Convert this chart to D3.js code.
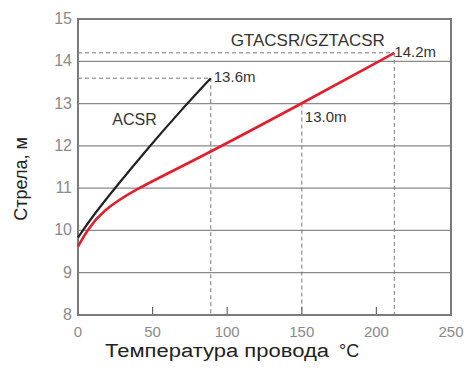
<!DOCTYPE html>
<html>
<head>
<meta charset="utf-8">
<script src="https://d3js.org/d3.v7.min.js"></script>
<style>
body { margin: 0; background: #fff; }
text { font-family: "Liberation Sans", Arial, sans-serif; }
</style>
</head>
<body>
<div id="viz"></div>
<script>
// data
var xTicks = [0, 50, 100, 150, 200, 250];
var yTicks = [8, 9, 10, 11, 12, 13, 14, 15];
var acsr = [[0, 9.83], [10, 10.35], [27, 11.1], [47, 11.95], [68, 12.8], [89, 13.6]];
var gtacsr = [[0, 9.62], [6, 10.0], [16, 10.45], [37, 10.95], [75, 11.6], [150, 13.0], [212, 14.2]];
var marks = [
  {t: 89, v: 13.6, label: "13.6m"},
  {t: 150, v: 13.0, label: "13.0m"},
  {t: 212, v: 14.2, label: "14.2m"}
];

var margin = {top: 19, right: 16, bottom: 55, left: 78};
var width = 467 - margin.left - margin.right;
var height = 370 - margin.top - margin.bottom;

var svg = d3.select("#viz").append("svg")
    .attr("width", 467)
    .attr("height", 370)
  .append("g")
    .attr("transform", "translate(" + margin.left + "," + margin.top + ")");

var x = d3.scaleLinear().domain([0, 250]).range([0, width]);
var y = d3.scaleLinear().domain([8, 15]).range([height, 0]);

// horizontal grid
svg.selectAll(".grid").data(yTicks).enter().append("line")
    .attr("x1", 0).attr("x2", width)
    .attr("y1", function(d) { return y(d); })
    .attr("y2", function(d) { return y(d); })
    .style("stroke", "#8a8a8a").style("stroke-width", 1.2);

// small ticks on the bottom, inside
svg.selectAll(".tk").data(xTicks.slice(1, -1)).enter().append("line")
    .attr("x1", function(d) { return x(d); }).attr("x2", function(d) { return x(d); })
    .attr("y1", height).attr("y2", height - 8)
    .style("stroke", "#666").style("stroke-width", 1.2);

// dashed reference lines
var dash = svg.append("g").style("stroke", "#777").style("stroke-width", 1)
    .style("stroke-dasharray", "4,3").style("fill", "none");
dash.append("line").attr("x1", 0).attr("x2", x(89)).attr("y1", y(13.6)).attr("y2", y(13.6));
dash.append("line").attr("x1", 0).attr("x2", x(212)).attr("y1", y(14.2)).attr("y2", y(14.2));
marks.forEach(function(m) {
  dash.append("line").attr("x1", x(m.t)).attr("x2", x(m.t)).attr("y1", y(m.v)).attr("y2", height);
});

// frame
svg.append("rect").attr("width", width).attr("height", height)
    .style("fill", "none").style("stroke", "#7a7a7a").style("stroke-width", 2);

var line = d3.line()
    .x(function(d) { return x(d[0]); })
    .y(function(d) { return y(d[1]); })
    .curve(d3.curveBasis);

svg.append("path").datum(gtacsr).attr("d", line)
    .style("fill", "none").style("stroke", "#e0202e").style("stroke-width", 2.6);
svg.append("path").datum(acsr).attr("d", line)
    .style("fill", "none").style("stroke", "#222").style("stroke-width", 2.2);

// tick labels
svg.selectAll(".yl").data(yTicks).enter().append("text")
    .attr("x", -6).attr("y", function(d) { return y(d) + 5; })
    .attr("text-anchor", "end").style("font-size", "16px").style("fill", "#8a8a8a")
    .text(function(d) { return d; });
svg.selectAll(".xl").data(xTicks).enter().append("text")
    .attr("x", function(d) { return x(d); }).attr("y", height + 22)
    .attr("text-anchor", "middle").style("font-size", "15px").style("fill", "#8a8a8a")
    .text(function(d) { return d; });

// value labels
svg.append("text").attr("x", x(89) + 3).attr("y", y(13.6) + 4)
    .style("font-size", "15px").style("fill", "#333").text(marks[0].label);
svg.append("text").attr("x", x(150) + 3).attr("y", y(13.0) + 18)
    .style("font-size", "15px").style("fill", "#333").text(marks[1].label);
svg.append("text").attr("x", x(212)).attr("y", y(14.2) + 4)
    .style("font-size", "15px").style("fill", "#333").text(marks[2].label);
svg.append("text").attr("x", x(154)).attr("y", y(14.2) - 7)
    .attr("text-anchor", "middle")
    .style("font-size", "17px").style("fill", "#333").text("GTACSR/GZTACSR");
svg.append("text").attr("x", x(23)).attr("y", y(12.5))
    .style("font-size", "16px").style("fill", "#333").text("ACSR");

// axis titles
svg.append("text").attr("x", 105 - margin.left).attr("y", 357 - margin.top)
    .attr("textLength", 224).attr("lengthAdjust", "spacingAndGlyphs")
    .style("font-size", "18px").style("fill", "#222")
    .text("Температура провода");
svg.append("text").attr("x", 339 - margin.left).attr("y", 357 - margin.top)
    .style("font-size", "18px").style("fill", "#222")
    .text("°C");
svg.append("text")
    .attr("transform", "translate(" + (27 - margin.left) + "," + (179 - margin.top) + ") rotate(-90)")
    .attr("text-anchor", "middle")
    .style("font-size", "18px").style("fill", "#222")
    .text("Стрела, м");
</script>
</body>
</html>
